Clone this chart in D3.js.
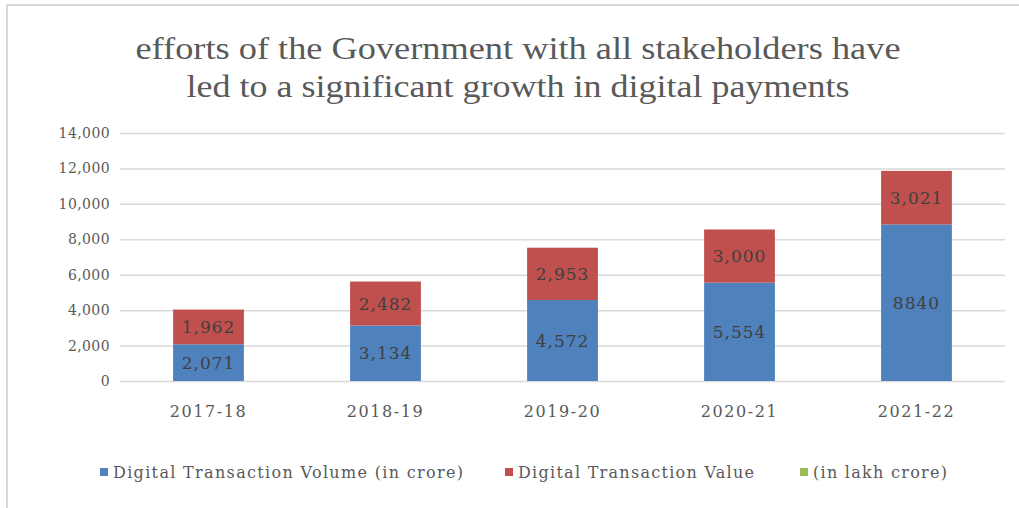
<!DOCTYPE html>
<html>
<head>
<meta charset="utf-8">
<script src="https://cdn.jsdelivr.net/npm/d3@7"></script>
<style>
  body { margin: 0; background: #fff; }
  svg { display: block; }
</style>
</head>
<body>
<script>
// datos
var years = ["2017-18", "2018-19", "2019-20", "2020-21", "2021-22"]
var volume = [2071, 3134, 4572, 5554, 8840]
var value = [1962, 2482, 2953, 3000, 3021]
var volumeLabels = ["2,071", "3,134", "4,572", "5,554", "8840"]
var valueLabels = ["1,962", "2,482", "2,953", "3,000", "3,021"]
var yTicks = [0, 2000, 4000, 6000, 8000, 10000, 12000, 14000]
var seriesNames = ["Digital Transaction Volume (in crore)", "Digital Transaction Value", "(in lakh crore)"]
var seriesColors = ["#4f81bd", "#c0504d", "#9bbb59"]
var titleLines = ["efforts of the Government with all stakeholders have", "led to a significant growth in digital payments"]

var width = 1019
var height = 508
var margin = { top: 133, bottom: 127, left: 120, right: 14 }

var svg = d3.select("body").append("svg")
  .attr("width", width)
  .attr("height", height)

// borde del area del grafico
svg.append("rect")
  .attr("x", 7).attr("y", 5)
  .attr("width", width + 10).attr("height", height + 10)
  .attr("fill", "none")
  .attr("stroke", "#d9d9d9")
  .attr("stroke-width", 2)

// titulo
svg.selectAll("text.title")
  .data(titleLines)
  .enter()
  .append("text")
  .attr("class", "title")
  .attr("x", 518)
  .attr("y", (d, i) => 59 + i * 38)
  .attr("text-anchor", "middle")
  .attr("font-family", "Liberation Serif")
  .attr("font-size", 32)
  .attr("fill", "#595959")
  .attr("textLength", (d, i) => i == 0 ? 765 : 663)
  .attr("lengthAdjust", "spacingAndGlyphs")
  .text(d => d)

var x = d3.scaleBand()
  .domain(years)
  .range([margin.left, width - margin.right])
  .paddingInner(0.6)
  .paddingOuter(0.3)

var y = d3.scaleLinear()
  .domain([0, 14000])
  .range([height - margin.bottom, margin.top])

// lineas de la cuadricula + etiquetas eje Y
var ejeY = d3.axisLeft(y)
  .tickValues(yTicks)
  .tickSize(-(width - margin.right - margin.left))
  .tickPadding(10)
  .tickFormat(d3.format(","))

var gY = svg.append("g")
  .attr("transform", "translate(" + margin.left + ",0)")
  .call(ejeY)
gY.select(".domain").remove()
gY.selectAll("line").attr("stroke", "#d9d9d9").attr("stroke-width", 1.5)
gY.selectAll("text")
  .attr("font-family", "DejaVu Serif")
  .attr("font-size", 14)
  .attr("letter-spacing", 0.4)
  .attr("fill", "#595959")

// eje X
var ejeX = d3.axisBottom(x).tickSize(0).tickPadding(25)
var gX = svg.append("g")
  .attr("transform", "translate(0," + (height - margin.bottom) + ")")
  .call(ejeX)
gX.select(".domain").remove()
gX.selectAll("text")
  .attr("font-family", "DejaVu Serif")
  .attr("font-size", 16)
  .attr("letter-spacing", 1.6)
  .attr("fill", "#595959")

// barras apiladas
var tabla = years.map((yr, i) => ({ year: yr, volume: volume[i], value: value[i], i: i }))
var stack = d3.stack().keys(["volume", "value"])(tabla)

var grupos = svg.selectAll("g.serie")
  .data(stack)
  .enter()
  .append("g")
  .attr("class", "serie")
  .attr("fill", (d, i) => seriesColors[i])

grupos.selectAll("rect")
  .data(d => d)
  .enter()
  .append("rect")
  .attr("x", d => x(d.data.year))
  .attr("width", x.bandwidth())
  .attr("y", d => y(d[1]))
  .attr("height", d => y(d[0]) - y(d[1]))

// etiquetas de datos
grupos.selectAll("text")
  .data((d, k) => d.map(p => ({ p: p, k: k })))
  .enter()
  .append("text")
  .attr("x", d => x(d.p.data.year) + x.bandwidth() / 2)
  .attr("y", d => (y(d.p[0]) + y(d.p[1])) / 2)
  .attr("dy", "0.36em")
  .attr("text-anchor", "middle")
  .attr("font-family", "DejaVu Serif")
  .attr("font-size", 17)
  .attr("letter-spacing", 1)
  .attr("fill", "#404040")
  .text(d => d.k == 0 ? volumeLabels[d.p.data.i] : valueLabels[d.p.data.i])

// leyenda
var legendX = [100, 505, 800]
var legendLen = [350, 236, 134]
var leyenda = svg.selectAll("g.leg")
  .data(seriesNames)
  .enter()
  .append("g")
  .attr("class", "leg")
  .attr("transform", (d, i) => "translate(" + legendX[i] + ",468)")

leyenda.append("rect")
  .attr("width", 8).attr("height", 8)
  .attr("fill", (d, i) => seriesColors[i])

leyenda.append("text")
  .attr("x", 13)
  .attr("y", 4)
  .attr("dy", "0.36em")
  .attr("font-family", "DejaVu Serif")
  .attr("font-size", 16)
  .attr("fill", "#595959")
  .attr("textLength", (d, i) => legendLen[i])
  .attr("lengthAdjust", "spacing")
  .text(d => d)
</script>
</body>
</html>
